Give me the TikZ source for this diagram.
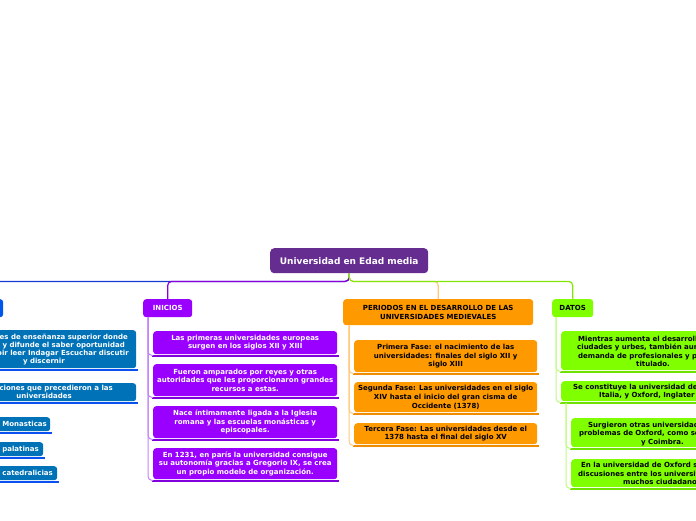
\documentclass[tikz,border=0pt]{standalone}
\usepackage{fontspec}
\setmainfont{DejaVu Sans}
\definecolor{cmain}{RGB}{102,45,145}
\definecolor{bhead}{RGB}{0,85,235}
\definecolor{bfill}{RGB}{0,114,183}
\definecolor{bbar}{RGB}{10,80,240}
\definecolor{bline}{RGB}{20,60,210}
\definecolor{pfill}{RGB}{153,0,255}
\definecolor{pbar}{RGB}{130,0,220}
\definecolor{pline}{RGB}{140,0,220}
\definecolor{plight}{RGB}{195,130,250}
\definecolor{ofill}{RGB}{255,153,0}
\definecolor{obar}{RGB}{240,140,0}
\definecolor{olight}{RGB}{255,200,120}
\definecolor{gfill}{RGB}{128,255,0}
\definecolor{gbar}{RGB}{110,225,0}
\definecolor{gline}{RGB}{130,230,10}
\definecolor{glight}{RGB}{190,250,130}
\tikzset{
  txt/.style={font=\fontsize{7.0}{8.6}\selectfont\bfseries, inner sep=0pt},
  box/.style={txt, rounded corners=3pt, anchor=north west, align=center},
  mainline/.style={line width=1.2pt, rounded corners=4pt},
  subline/.style={line width=1pt, rounded corners=4pt},
  ubar/.style={line width=2.2pt},
}
\begin{document}
\begin{tikzpicture}[x=1pt,y=-1pt]
\useasboundingbox (0,0) rectangle (696,520);
\clip (0,0) rectangle (696,520);

% central node
\node[box, fill=cmain, text=white, rounded corners=4pt, minimum width=158, minimum height=25,
      font=\fontsize{9}{10}\selectfont\bfseries] (c) at (270,248) {Universidad en Edad media};

% headers
\node[box, fill=bhead, minimum width=60, minimum height=18] (bh) at (-57,299) {};
\node[box, fill=pfill, text=white, minimum width=49, minimum height=18] (ini) at (143,299) {INICIOS};
\node[box, fill=ofill, minimum width=190, minimum height=26] (per) at (343,299) {PERIODOS EN EL DESARROLLO DE LAS\\UNIVERSIDADES MEDIEVALES};
\node[box, fill=gfill, minimum width=41, minimum height=18] (dat) at (552,299) {DATOS};

% main connectors
\draw[mainline, bline] (c.south) -- ++(0,8) -| (bh.north);
\draw[mainline, pline] (c.south) -- ++(0,8) -| (ini.north);
\draw[mainline, olight] (c.south) -- ++(0,8) -| (per.north);
\draw[mainline, gline] (c.south) -- ++(0,8) -| (dat.north);

% purple items
\node[box, fill=pfill, text=white, minimum width=184, minimum height=23] (p1) at (153,331)
  {Las primeras universidades europeas\\surgen en los siglos XII y XIII};
\node[box, fill=pfill, text=white, minimum width=184, minimum height=32] (p2) at (153,364)
  {Fueron amparados por reyes y otras\\autoridades que les proporcionaron grandes\\recursos a estas.};
\node[box, fill=pfill, text=white, minimum width=184, minimum height=32] (p3) at (153,406)
  {Nace íntimamente ligada a la Iglesia\\romana y las escuelas monásticas y\\episcopales.};
\node[box, fill=pfill, text=white, minimum width=184, minimum height=31] (p4) at (153,448)
  {En 1231, en parís la universidad consigue\\su autonomía gracias a Gregorio IX, se crea\\un propio modelo de organización.};

% orange items
\node[box, fill=ofill, minimum width=183, minimum height=32] (o1) at (354,340)
  {Primera Fase: el nacimiento de las\\universidades: finales del siglo XII y\\siglo XIII};
\node[box, fill=ofill, minimum width=183, minimum height=30] (o2) at (354,382)
  {Segunda Fase: Las universidades en el siglo\\XIV hasta el inicio del gran cisma de\\Occidente (1378)};
\node[box, fill=ofill, minimum width=183, minimum height=21] (o3) at (354,423)
  {Tercera Fase: Las universidades desde el\\1378 hasta el final del siglo XV};

% green items (clipped at right)
\node[box, fill=gfill, minimum width=200, minimum height=39] (g1) at (561,331) {};
\node[box, fill=gfill, minimum width=200, minimum height=20] (g2) at (561,381) {};
\node[box, fill=gfill, minimum width=200, minimum height=29] (g3) at (571,418) {};
\node[box, fill=gfill, minimum width=200, minimum height=28] (g4) at (571,459) {};

% blue items (clipped at left)
\node[box, fill=bfill, minimum width=196, minimum height=38] (b1) at (-60,330) {};
\node[box, fill=bfill, minimum width=196, minimum height=18] (b2) at (-60,383) {};
\node[box, fill=bfill, minimum width=110, minimum height=14] (b3) at (-60,417) {};
\node[box, fill=bfill, minimum width=103, minimum height=14] (b4) at (-60,442) {};
\node[box, fill=bfill, minimum width=117, minimum height=14] (b5) at (-60,466) {};

% underline bars
\foreach \n/\col in {p1/pbar,p2/pbar,p3/pbar,p4/pbar,o1/obar,o2/obar,o3/obar,
                     g1/gbar,g2/gbar,g3/gbar,g4/gbar,b1/bbar,b2/bbar,b3/bbar,b4/bbar,b5/bbar}
  \draw[ubar, \col] ([xshift=-1pt,yshift=-1.2pt]\n.south west) -- ([xshift=1.5pt,yshift=-1.2pt]\n.south east);

% sub connectors
\foreach \n in {p1,p2,p3,p4}
  \draw[subline, plight] ([xshift=5pt]ini.south west) |- ([yshift=-1pt]\n.south west);
\foreach \n in {o1,o2,o3}
  \draw[subline, olight] ([xshift=6pt]per.south west) |- ([yshift=-1pt]\n.south west);
\foreach \n in {g1,g2}
  \draw[subline, glight] ([xshift=4pt]dat.south west) |- ([yshift=-1pt]\n.south west);
\foreach \n in {g3,g4}
  \draw[subline, glight] ([xshift=5pt,yshift=-2pt]g2.south west) |- ([yshift=-1pt]\n.south west);

% green texts
\node[txt, anchor=base west] (g1a) at (578,341) {Mientras aumenta el desarroll};
\node[txt, anchor=base west] (g1b) at (577,349.5) {ciudades y urbes, también aum};
\node[txt, anchor=base west] (g1c) at (578,358) {demanda de profesionales y p};
\node[txt, anchor=base west] (g1d) at (636,366) {titulado.};
\node[txt, anchor=base west] (g2a) at (573,389.5) {Se constituye la universidad de};
\node[txt, anchor=base west] (g2b) at (599,397.5) {Italia, y Oxford, Inglater};
\node[txt, anchor=base west] (g3a) at (588,427) {Surgieron otras universidad};
\node[txt, anchor=base west] (g3b) at (579,435.5) {problemas de Oxford, como so};
\node[txt, anchor=base west] (g3c) at (641,444) {y Coimbra.};
\node[txt, anchor=base west] (g4a) at (581,467.5) {En la universidad de Oxford s};
\node[txt, anchor=base west] (g4b) at (578,476) {discusiones entre los universit};
\node[txt, anchor=base west] (g4c) at (623,484.5) {muchos ciudadano};

% blue texts
\node[txt, text=white, anchor=base east] (b1a) at (128,339.5) {es de enseñanza superior donde};
\node[txt, text=white, anchor=base east] (b1b) at (125,347.5) {e y difunde el saber oportunidad};
\node[txt, text=white, anchor=base east] (b1c) at (129,355.5) {oir leer Indagar Escuchar discutir};
\node[txt, text=white, anchor=base east] (b1d) at (65,363.5) {y discernir};
\node[txt, text=white, anchor=base east] (b2a) at (113,390.5) {ciones que precedieron a las};
\node[txt, text=white, anchor=base east] (b2b) at (72,398.5) {universidades};
\node[txt, text=white, anchor=base east] (b3a) at (47,426.5) {s Monasticas};
\node[txt, text=white, anchor=base east] (b4a) at (39,451.5) {s palatinas};
\node[txt, text=white, anchor=base east] (b5a) at (53,475.5) {s catedralicias};
\end{tikzpicture}
\end{document}
